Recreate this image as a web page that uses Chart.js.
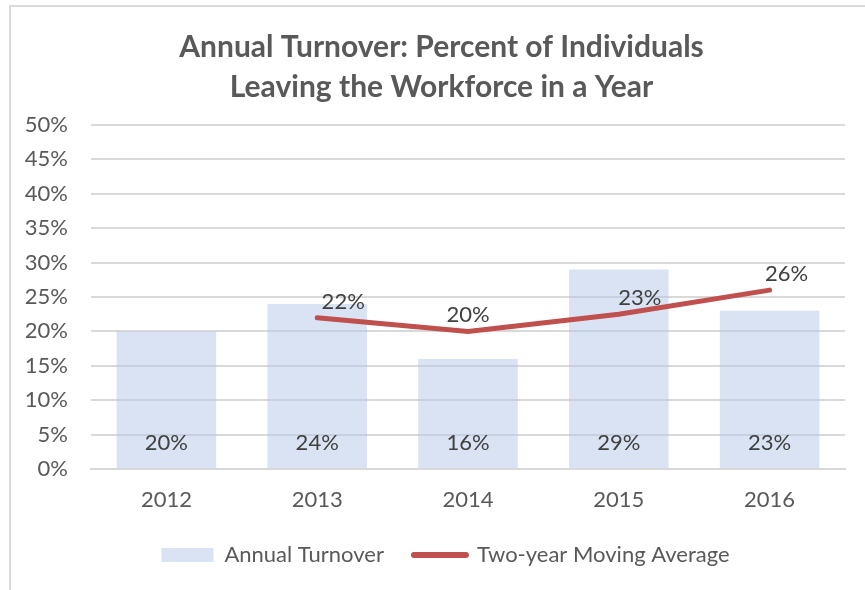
<!DOCTYPE html>
<html lang="en">
<head>
    <meta charset="UTF-8">
    <title>Annual Turnover</title>
    <script src="https://cdn.jsdelivr.net/npm/chart.js"></script>
    <style>
        body {
            margin: 0;
            background: #ffffff;
            overflow: hidden;
        }
        .frame {
            position: absolute;
            left: 9px;
            top: 5px;
            width: 900px;
            height: 650px;
            border: 2px solid #d9d9d9;
        }
        #turnoverChart {
            position: absolute;
            left: 0;
            top: 0;
        }
    </style>
</head>
<body>

    <div class="frame"></div>
    <canvas id="turnoverChart" width="865" height="590"></canvas>

    <script>
        const years = ["2012", "2013", "2014", "2015", "2016"];
        const annualTurnover = [20, 24, 16, 29, 23];
        const movingAverage = [null, 22, 20, 22.5, 26];
        const yTicks = [0, 5, 10, 15, 20, 25, 30, 35, 40, 45, 50];

        const fontFamily = "Lato, 'Open Sans', sans-serif";

        // value labels: bars at the inside base, line points above
        const valueLabels = {
            id: 'valueLabels',
            afterDatasetsDraw(chart, args, opts) {
                const ctx = chart.ctx;
                ctx.save();
                ctx.font = '22px ' + fontFamily;
                ctx.fillStyle = '#404040';
                ctx.textAlign = 'center';
                ctx.textBaseline = 'middle';
                chart.data.datasets.forEach((ds, i) => {
                    const meta = chart.getDatasetMeta(i);
                    meta.data.forEach((el, j) => {
                        const v = ds.data[j];
                        if (v === null) return;
                        const txt = Math.round(v) + '%';
                        if (ds.type === 'bar') {
                            ctx.fillText(txt, el.x, el.base - 25);
                        } else {
                            ctx.fillText(txt, el.x + opts.lineShift[j], el.y - 16);
                        }
                    });
                });
                ctx.restore();
            }
        };

        // Excel centres title and legend on the whole frame, not on the axis box
        const centreBlocks = {
            id: 'centreBlocks',
            afterLayout(chart) {
                if (chart.titleBlock) chart.titleBlock.left += 38;
                if (chart.legend) chart.legend.left += 46;
            }
        };

        new Chart(document.getElementById('turnoverChart'), {
            data: {
                labels: years,
                datasets: [
                    {
                        type: 'bar',
                        label: 'Annual Turnover',
                        data: annualTurnover,
                        backgroundColor: 'rgba(180, 199, 231, 0.5)',
                        borderWidth: 0,
                        categoryPercentage: 1,
                        barPercentage: 0.66,
                        order: 2
                    },
                    {
                        type: 'line',
                        label: 'Two-year Moving Average',
                        data: movingAverage,
                        borderColor: '#c0504d',
                        backgroundColor: '#c0504d',
                        borderWidth: 5,
                        borderCapStyle: 'round',
                        pointRadius: 0,
                        tension: 0,
                        order: 1
                    }
                ]
            },
            plugins: [valueLabels, centreBlocks],
            options: {
                responsive: false,
                animation: false,
                layout: {
                    padding: { left: 0, right: 20, top: 0, bottom: 14 }
                },
                plugins: {
                    valueLabels: { lineShift: [0, 26, 0, 21, 17] },
                    tooltip: { enabled: false },
                    title: {
                        display: true,
                        text: ['Annual Turnover: Percent of Individuals', 'Leaving the Workforce in a Year'],
                        color: '#595959',
                        font: { family: fontFamily, size: 30, weight: 'bold', lineHeight: '40px' },
                        padding: { top: 27, bottom: 18 }
                    },
                    legend: {
                        position: 'bottom',
                        labels: {
                            color: '#595959',
                            font: { family: fontFamily, size: 22 },
                            usePointStyle: true,
                            pointStyleWidth: 52,
                            boxHeight: 14,
                            padding: 30,
                            generateLabels(chart) {
                                return chart.data.datasets.map((ds, i) => ({
                                    text: ds.label,
                                    fillStyle: ds.backgroundColor,
                                    strokeStyle: ds.type === 'line' ? ds.borderColor : ds.backgroundColor,
                                    lineWidth: ds.type === 'line' ? 6 : 0,
                                    lineCap: 'round',
                                    pointStyle: ds.type === 'line' ? 'line' : 'rect',
                                    fontColor: '#595959',
                                    datasetIndex: i
                                }));
                            }
                        }
                    }
                },
                scales: {
                    x: {
                        afterFit(axis) {
                            axis.height = 45;
                        },
                        grid: { display: false, drawTicks: false },
                        border: { color: '#d9d9d9', width: 2 },
                        ticks: {
                            color: '#595959',
                            font: { family: fontFamily, size: 22 },
                            padding: 18
                        }
                    },
                    y: {
                        min: 0,
                        max: 50,
                        afterBuildTicks(axis) {
                            axis.ticks = yTicks.map(v => ({ value: v }));
                        },
                        afterFit(axis) {
                            axis.width = 91;
                        },
                        grid: { color: '#d9d9d9', lineWidth: 2, drawTicks: false },
                        border: { display: false },
                        ticks: {
                            color: '#595959',
                            font: { family: fontFamily, size: 22 },
                            padding: 23,
                            callback: v => v + '%'
                        }
                    }
                }
            }
        });
    </script>

</body>
</html>
